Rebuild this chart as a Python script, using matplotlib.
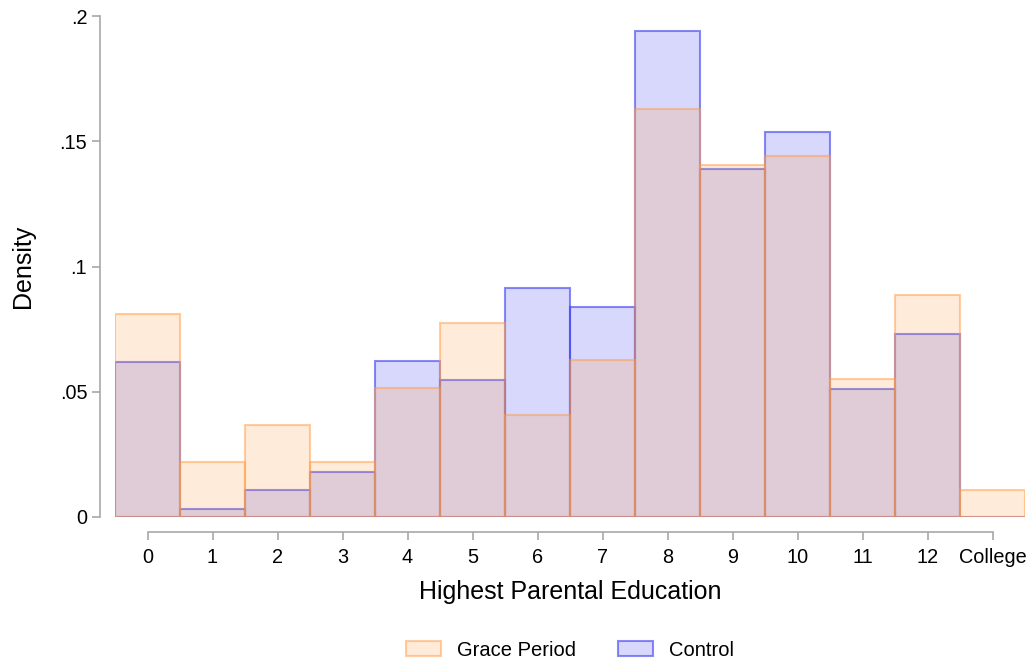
import matplotlib
matplotlib.use("Agg")
import matplotlib.pyplot as plt
from matplotlib.patches import Patch

plt.rcParams['font.family'] = ['Liberation Sans', 'DejaVu Sans']

categories = ["0", "1", "2", "3", "4", "5", "6", "7", "8", "9", "10", "11", "12", "College"]
grace_density = [0.0810, 0.0220, 0.0367, 0.0220, 0.0515, 0.0774, 0.0407, 0.0627,
                 0.1629, 0.1405, 0.1441, 0.0551, 0.0886, 0.0108]
control_density = [0.0619, 0.0032, 0.0108, 0.0180, 0.0623, 0.0547, 0.0914, 0.0838,
                   0.1940, 0.1389, 0.1537, 0.0511, 0.0731, 0.0]
y_ticks = [0, 0.05, 0.1, 0.15, 0.2]
y_tick_labels = ["0", ".05", ".1", ".15", ".2"]

orange = (1.0, 0.61, 0.27)
blue = (0.24, 0.24, 0.94)
fill_alpha = 0.2
edge_alpha = 0.5

W, H = 1032, 664
fig = plt.figure(figsize=(W / 100, H / 100), dpi=100)
ax = fig.add_axes([115 / W, 1 - 517 / H, (1025 - 115) / W, (517 - 16) / H])

x = list(range(len(categories)))
ax.bar(x, control_density, width=1.0, color=blue + (fill_alpha,),
       edgecolor=blue + (0.6,), linewidth=1.5)
ax.bar(x, grace_density, width=1.0, color=orange + (fill_alpha,),
       edgecolor=orange + (edge_alpha,), linewidth=1.5)

ax.set_xlim(-0.5, 13.5)
ax.set_ylim(0, 0.2)

axis_grey = "#a8a8a8"
for side in ("top", "right"):
    ax.spines[side].set_visible(False)
ax.spines["left"].set_position(("outward", 11))
ax.spines["bottom"].set_position(("outward", 11))
ax.spines["left"].set_bounds(0, 0.2)
ax.spines["bottom"].set_bounds(0, 13)
for side in ("left", "bottom"):
    ax.spines[side].set_color(axis_grey)
    ax.spines[side].set_linewidth(1.2)

ax.set_xticks(x)
ax.set_xticklabels(categories)
ax.set_yticks(y_ticks)
ax.set_yticklabels(y_tick_labels)
ax.tick_params(axis="both", colors=axis_grey, labelcolor="black", labelsize=14.3,
               length=6, width=1.2)
ax.tick_params(axis="x", pad=5)
ax.tick_params(axis="y", pad=3)

ax.set_xlabel("Highest Parental Education", fontsize=18, labelpad=10)
ax.set_ylabel("Density", fontsize=18, labelpad=18)

handles = [
    Patch(facecolor=orange + (fill_alpha,), edgecolor=orange + (edge_alpha,), linewidth=1.5,
          label="Grace Period"),
    Patch(facecolor=blue + (fill_alpha,), edgecolor=blue + (0.6,), linewidth=1.5,
          label="Control"),
]
fig.legend(handles=handles, loc="center", bbox_to_anchor=(570 / W, 1 - 650 / H),
           ncol=2, frameon=False, fontsize=14.5, handlelength=1.75, handleheight=0.75,
           columnspacing=2.1, handletextpad=0.8)

fig.savefig("out.png", dpi=100, facecolor="white")
